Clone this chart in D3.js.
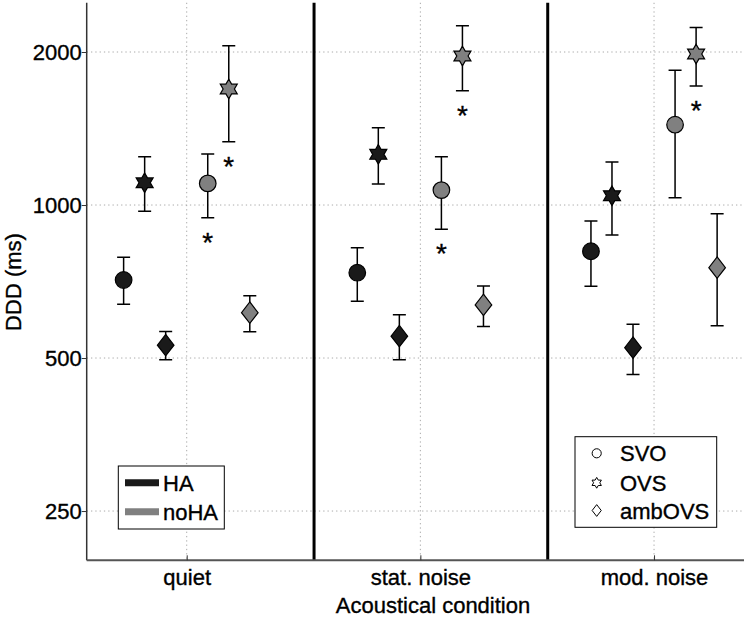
<!DOCTYPE html>
<html>
<head>
<meta charset="utf-8">
<script src="https://cdn.jsdelivr.net/npm/d3@7/dist/d3.min.js"></script>
<style>
  body { margin: 0; background: #fff; }
  svg { display: block; font-family: "Liberation Sans", Arial, sans-serif; }
  text.lbl { stroke: #000; stroke-width: 0.35px; fill: #000; }
</style>
</head>
<body>
<svg id="chart" width="748" height="618"></svg>
<script>
// ---------- data ----------
const conditions = ["quiet", "stat. noise", "mod. noise"];
const sentenceTypes = ["SVO", "OVS", "ambOVS"];
const groups = ["HA", "noHA"];
const yTicks = [250, 500, 1000, 2000];

// mean DDD (ms) per condition: [SVO, OVS, ambOVS]
const HA_mean  = [[712, 1106, 530], [736, 1258, 552], [811, 1043, 524]];
const HA_low   = [[638,  972, 496], [647, 1100, 496], [692,  873, 464]];
const HA_high  = [[789, 1245, 564], [824, 1419, 608], [930, 1215, 583]];
const noHA_mean = [[1103, 1691, 614], [1070, 1964, 636], [1439, 1982, 753]];
const noHA_low  = [[ 944, 1332, 563], [ 896, 1678, 577], [1034, 1714, 579]];
const noHA_high = [[1260, 2058, 663], [1245, 2253, 693], [1841, 2236, 961]];
// significance markers (noHA vs HA) per condition: [SVO, OVS, ambOVS]
const noHA_sig = [[true, true, false], [true, true, false], [false, true, false]];

// ---------- layout ----------
const svg = d3.select("#chart");
const pLeft = 86.7, pRight = 744, pTop = 2.75, pBottom = 560.3;
const FS = 22;

const x = d3.scaleLinear().domain([0.572, 3.385]).range([pLeft, pRight]);
const y = d3.scaleLog().domain([200, 2500]).range([pBottom, pTop]);

const groupColor = { HA: "#1a1a1a", noHA: "#808080" };
const offsets = { HA: [-0.27, -0.18, -0.09], noHA: [0.09, 0.18, 0.27] };

// build table
const points = [];
conditions.forEach((c, ci) => {
  sentenceTypes.forEach((t, ti) => {
    points.push({ group: "HA", ci, ti, mean: HA_mean[ci][ti], lo: HA_low[ci][ti], hi: HA_high[ci][ti], sig: false });
    points.push({ group: "noHA", ci, ti, mean: noHA_mean[ci][ti], lo: noHA_low[ci][ti], hi: noHA_high[ci][ti], sig: noHA_sig[ci][ti] });
  });
});
const px = d => x(d.ci + 1 + offsets[d.group][d.ti]);

// ---------- grid ----------
const grid = svg.append("g").attr("stroke", "#aaa").attr("stroke-width", 1).attr("stroke-dasharray", "1.3,3");
grid.selectAll("line.h").data(yTicks).join("line").attr("class", "h")
  .attr("x1", pLeft).attr("x2", pRight).attr("y1", d => y(d)).attr("y2", d => y(d));
grid.selectAll("line.v").data(conditions).join("line").attr("class", "v")
  .attr("x1", (d, i) => x(i + 1)).attr("x2", (d, i) => x(i + 1)).attr("y1", pTop).attr("y2", pBottom);

// separators
const separators = [1.545, 2.545];
svg.append("g").selectAll("line").data(separators).join("line")
  .attr("x1", d => x(d)).attr("x2", d => x(d)).attr("y1", pTop).attr("y2", pBottom)
  .attr("stroke", "#000").attr("stroke-width", 3);

// ---------- axes ----------
const yAxis = d3.axisLeft(y).tickValues(yTicks).tickFormat(d3.format("d")).tickSizeInner(5).tickSizeOuter(0).tickPadding(0);
const gy = svg.append("g").attr("transform", `translate(${pLeft},0)`).call(yAxis);
gy.select(".domain").attr("stroke", "#333").attr("stroke-width", 1.5).attr("d", `M0,${pTop}V${pBottom}`);
gy.selectAll(".tick line").attr("stroke", "#333");
gy.selectAll(".tick text").attr("class", "lbl").attr("font-size", FS)
  .attr("font-family", "'Liberation Sans', Arial, sans-serif").attr("dy", "0.36em").attr("x", -5);

const xAxis = d3.axisBottom(x).tickValues([1, 2, 3]).tickFormat(d => conditions[d - 1]).tickSizeInner(-5).tickSizeOuter(0).tickPadding(0);
const gx = svg.append("g").attr("transform", `translate(0,${pBottom})`).call(xAxis);
gx.select(".domain").attr("stroke", "#555").attr("stroke-width", 2).attr("d", `M${pLeft},0H${pRight}`);
gx.selectAll(".tick line").attr("stroke", "#333");
gx.selectAll(".tick text").attr("class", "lbl").attr("font-size", FS)
  .attr("font-family", "'Liberation Sans', Arial, sans-serif").attr("dy", null).attr("y", 24.7);

svg.append("text").attr("class", "lbl").attr("x", 433).attr("y", 612.7).attr("text-anchor", "middle")
  .attr("font-size", FS).text("Acoustical condition");
svg.append("text").attr("class", "lbl").attr("transform", "translate(21,282) rotate(-90)").attr("text-anchor", "middle")
  .attr("font-size", FS).text("DDD (ms)");

// ---------- marker shapes ----------
function hexagram(R) {
  const r = R / Math.sqrt(3), pts = [];
  for (let k = 0; k < 12; k++) {
    const a = (-90 + k * 30) * Math.PI / 180, rr = k % 2 === 0 ? R : r;
    pts.push([rr * Math.cos(a), rr * Math.sin(a)]);
  }
  return "M" + pts.map(p => p[0].toFixed(2) + "," + p[1].toFixed(2)).join("L") + "Z";
}
function shapePath(ti, s) {
  if (ti === 0) { const r = 8.3 * s; return `M${-r},0A${r},${r} 0 1,0 ${r},0A${r},${r} 0 1,0 ${-r},0Z`; }
  if (ti === 1) return hexagram(9.8 * s);
  const w = 8.3 * s, h = 10.7 * s;
  return `M0,${-h}L${w},0L0,${h}L${-w},0Z`;
}

// ---------- error bars ----------
const eb = svg.append("g").attr("stroke", "#000").attr("stroke-width", 1.5).attr("fill", "none");
eb.selectAll("path").data(points).join("path")
  .attr("d", d => {
    const cx = px(d), yl = y(d.lo), yh = y(d.hi), cw = 6.5;
    return `M${cx},${yh}V${yl}M${cx - cw},${yh}H${cx + cw}M${cx - cw},${yl}H${cx + cw}`;
  });

// ---------- markers ----------
svg.append("g").selectAll("path").data(points).join("path")
  .attr("transform", d => `translate(${px(d)},${y(d.mean)})`)
  .attr("d", d => shapePath(d.ti, 1))
  .attr("fill", d => groupColor[d.group]).attr("stroke", "#000").attr("stroke-width", 1.2);

// significance asterisks
svg.append("g").selectAll("text").data(points.filter(d => d.sig)).join("text")
  .attr("class", "lbl")
  .attr("x", d => px(d)).attr("y", d => y(d.lo) + 18 + 16)
  .attr("text-anchor", "middle").attr("font-size", 28).text("*");

// ---------- legend 1 (groups) ----------
const L1 = svg.append("g");
L1.append("rect").attr("x", 118.3).attr("y", 466).attr("width", 106).attr("height", 63)
  .attr("fill", "#fff").attr("stroke", "#000").attr("stroke-width", 1);
groups.forEach((g, i) => {
  const yy = 482.7 + i * 29;
  L1.append("line").attr("x1", 125).attr("x2", 159).attr("y1", yy).attr("y2", yy)
    .attr("stroke", groupColor[g]).attr("stroke-width", 7);
  L1.append("text").attr("class", "lbl").attr("x", 163).attr("y", yy + 8.2).attr("font-size", FS).text(g);
});

// ---------- legend 2 (sentence types) ----------
const L2 = svg.append("g");
L2.append("rect").attr("x", 575).attr("y", 436.7).attr("width", 141.7).attr("height", 90.6)
  .attr("fill", "#fff").attr("stroke", "#000").attr("stroke-width", 1);
const l2y = [453.3, 482.8, 510.5];
sentenceTypes.forEach((t, i) => {
  L2.append("path").attr("transform", `translate(596.7,${l2y[i]})`).attr("d", shapePath(i, 0.55))
    .attr("fill", "none").attr("stroke", "#000").attr("stroke-width", 1);
  L2.append("text").attr("class", "lbl").attr("x", 620).attr("y", l2y[i] + 8).attr("font-size", FS).text(t);
});
</script>
</body>
</html>
